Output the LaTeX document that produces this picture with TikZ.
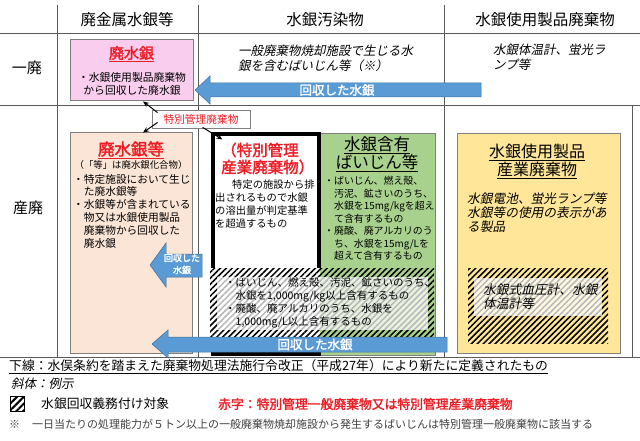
\documentclass[tikz,border=0pt]{standalone}
\usepackage{fontspec}
\setmainfont{Noto Sans CJK JP}
\newfontfamily\jpit[FakeSlant=0.2]{Noto Sans CJK JP}
\newfontfamily\jpbf[FakeBold=2]{Noto Sans CJK JP}
\usetikzlibrary{patterns.meta,arrows.meta}
\newcommand{\jfs}[2]{\fontsize{#1}{#2}\selectfont}
\definecolor{gridc}{HTML}{595959}
\definecolor{boxgray}{HTML}{7F7F7F}
\definecolor{pinkc}{HTML}{F9CDEE}
\definecolor{peachc}{HTML}{FBE5D6}
\definecolor{greenc}{HTML}{A9D18E}
\definecolor{yellowc}{HTML}{FFE699}
\definecolor{bluec}{HTML}{5B9BD5}
\definecolor{blueedge}{HTML}{41719C}
\definecolor{redc}{HTML}{EE1C25}
\definecolor{notec}{HTML}{404040}
\tikzset{
  gridline/.style={draw=gridc, line width=0.8pt},
  box/.style={draw=boxgray, line width=0.8pt, inner sep=0pt},
  hatch/.style={pattern={Lines[angle=45,distance=4.2pt,line width=1.5pt]}, pattern color=black},
  veil/.style={fill=white, fill opacity=0.72},
  blockarrow/.style={fill=bluec, draw=blueedge, line width=0.5pt},
  arrowtext/.style={text=white, font=\jpbf\jfs{12.5}{14}, inner sep=0pt},
  txt/.style={inner sep=0pt, align=left, anchor=west},
  ctxt/.style={inner sep=0pt, align=center},
  callout/.style={-{Stealth[length=6pt,width=5pt]}, line width=1pt, black}
}
\begin{document}
\begin{tikzpicture}[x=1pt,y=-1pt]
\useasboundingbox (0,0) rectangle (640,441);
\fill[white] (0,0) rectangle (640,441);

% grid
\draw[gridline] (0,33) -- (640,33);
\draw[gridline] (0,105) -- (640,105);
\draw[gridline] (0,357) -- (640,357);
\draw[gridline] (57,5) -- (57,357);
\draw[gridline] (198,5) -- (198,357);
\draw[gridline] (444,5) -- (444,357);
\draw[gridline] (632,105) -- (632,357);

% headers
\node[ctxt, font=\jfs{15.5}{17}] (h1) at (127,20) {廃金属水銀等};
\node[ctxt, font=\jfs{15.5}{17}] (h2) at (325,20) {水銀汚染物};
\node[ctxt, font=\jfs{15.5}{17}] (h3) at (545,20) {水銀使用製品廃棄物};
\node[ctxt, font=\jfs{15}{17}] (r1) at (27,68) {一廃};
\node[ctxt, font=\jfs{15}{17}] (r2) at (28,208) {産廃};

% top row
\node[box, fill=pinkc, minimum width=123, minimum height=61] (pink) at (131.5,69.5) {};
\node[ctxt, font=\jpbf\jfs{15}{17}, text=redc] (pinkt) at (131.5,54) {\underline{廃水銀}};
\node[ctxt, font=\jfs{10.8}{13.5}] (pinkb) at (132,84) {・水銀使用製品廃棄物\\から回収した廃水銀};
\node[txt, font=\jpit\jfs{12.5}{15}] (midt) at (238,58) {一般廃棄物焼却施設で生じる水\\銀を含むばいじん等（※）};
\node[txt, font=\jpit\jfs{12.5}{15}] (rgtt) at (493,57.5) {水銀体温計、蛍光ラ\\ンプ等};

\fill[blockarrow] (195,90) -- (210,76) -- (210,83) -- (481,83) -- (481,97) -- (210,97) -- (210,104) -- cycle;
\node[arrowtext] (toparr) at (337,90) {回収した水銀};

% peach box
\node[box, fill=peachc, minimum width=122, minimum height=221] (peach) at (131,242.5) {};
\node[ctxt, font=\jpbf\jfs{16.5}{18}, text=redc] (peacht) at (131,150) {\underline{廃水銀等}};
\node[ctxt, font=\jfs{9.4}{11}] (peachs) at (131,164.5) {（「等」は廃水銀化合物）};
\node[txt, font=\jfs{10.7}{12.8}] (peachb) at (73,211) {・特定施設において生じ\\\phantom{・}た廃水銀等\\・水銀等が含まれている\\\phantom{・}物又は水銀使用製品\\\phantom{・}廃棄物から回収した\\\phantom{・}廃水銀};

% green and black boxes
\node[box, fill=greenc, minimum width=115, minimum height=222] (green) at (377.5,244) {};
\node[draw=black, line width=3.2pt, fill=white, minimum width=106, minimum height=220, inner sep=0pt] (blk) at (266,244) {};
\node[txt, font=\jpbf\jfs{15.5}{17}, text=redc] (blkt) at (221,158.5) {（特別管理\\産業廃棄物）};
\node[txt, font=\jfs{10.3}{13}] (blkb) at (215,204.5) {\hspace*{17pt}特定の施設から排\\出されるもので水銀\\の溶出量が判定基準\\を超過するもの};
\node[ctxt, font=\jfs{16.5}{18}] (greent) at (377,154) {\underline{水銀含有}\\\underline{ばいじん等}};
\node[txt, font=\jfs{9.9}{12.5}] (greenb) at (324,218.5) {・ばいじん、燃え殻、\\\phantom{・}汚泥、鉱さいのうち、\\\phantom{・}水銀を15mg/kgを超え\\\phantom{・}て含有するもの\\・廃酸、廃アルカリのう\\\phantom{・}ち、水銀を15mg/Lを\\\phantom{・}超えて含有するもの};

% hatched region in the middle column
\fill[white] (210,268) rectangle (320,337);
\fill[greenc] (320,268) rectangle (434,337);
\path[hatch] (210,268) rectangle (434,337);
\path[veil] (217,277) rectangle (428,330);
\node[txt, font=\jfs{10.5}{13}] (hatchb) at (225,302.5) {・ばいじん、燃え殻、汚泥、鉱さいのうち、\\\phantom{・}水銀を1,000mg/kg以上含有するもの\\・廃酸、廃アルカリのうち、水銀を\\\phantom{・}1,000mg/L以上含有するもの};

% right column
\node[box, fill=yellowc, minimum width=163, minimum height=220] (yel) at (538.5,243) {};
\node[ctxt, font=\jfs{16}{18}] (yelt) at (537,161) {\underline{水銀使用製品}\\\underline{産業廃棄物}};
\node[txt, font=\jpit\jfs{12.7}{14}] (yelb) at (467,213) {水銀電池、蛍光ランプ等\\水銀等の使用の表示があ\\る製品};
\path[hatch] (468,268) rectangle (608,343);
\path[veil] (474,278) rectangle (602,316);
\node[txt, font=\jpit\jfs{12.7}{13.5}] (yelh) at (483,296.5) {水銀式血圧計、水銀\\体温計等};

% blue arrows in 産廃 row
\fill[blockarrow] (150,265) -- (166,243) -- (166,254) -- (202,254) -- (202,277) -- (166,277) -- (166,287) -- cycle;
\node[ctxt, text=white, font=\jpbf\jfs{9}{12}] (smallarr) at (182,264) {回収した\\水銀};
\fill[blockarrow] (152,344) -- (168,330) -- (168,337) -- (447,337) -- (447,352) -- (168,352) -- (168,358) -- cycle;
\node[arrowtext] (botarr) at (315,344.5) {回収した水銀};

% label with callouts
\node[box, fill=white, text=redc, font=\jfs{10.7}{12}, minimum width=98, minimum height=18] (lab) at (201,119) {特別管理廃棄物};
\draw[callout] ([xshift=6pt,yshift=-3pt]lab.north west) -- ([xshift=11.5pt,yshift=-1pt]pink.south);
\draw[callout] ([xshift=6pt,yshift=6pt]lab.south west) -- ([xshift=12pt,yshift=-1pt]peach.north);
\draw[callout] ([xshift=51pt,yshift=1pt]lab.south west) -- ([xshift=11pt,yshift=-7pt]blk.north west);

% legend
\node[txt, font=\jfs{12.8}{14}] (l1) at (9,367) {\underline{下線：水俣条約を踏まえた廃棄物処理法施行令改正（平成27年）により新たに定義されたもの}};
\node[txt, font=\jpit\jfs{12.5}{14}] (l2) at (11,384) {斜体：例示};
\node[pattern={Lines[angle=45,distance=4.8pt,line width=2pt]}, pattern color=black, draw=black, line width=0.6pt, minimum width=14, minimum height=15, inner sep=0pt] (lsq) at (17,403.5) {};
\node[txt, font=\jfs{12.8}{14}] (l3) at (41,404) {水銀回収義務付け対象};
\node[txt, font=\jpbf\jfs{12.8}{14}, text=redc] (l4) at (218,404) {赤字：特別管理一般廃棄物又は特別管理産業廃棄物};
\node[txt, font=\jfs{11}{12}, text=notec] (l5) at (9,424) {※\hspace{12pt}一日当たりの処理能力が５トン以上の一般廃棄物焼却施設から発生するばいじんは特別管理一般廃棄物に該当する};
\end{tikzpicture}
\end{document}
